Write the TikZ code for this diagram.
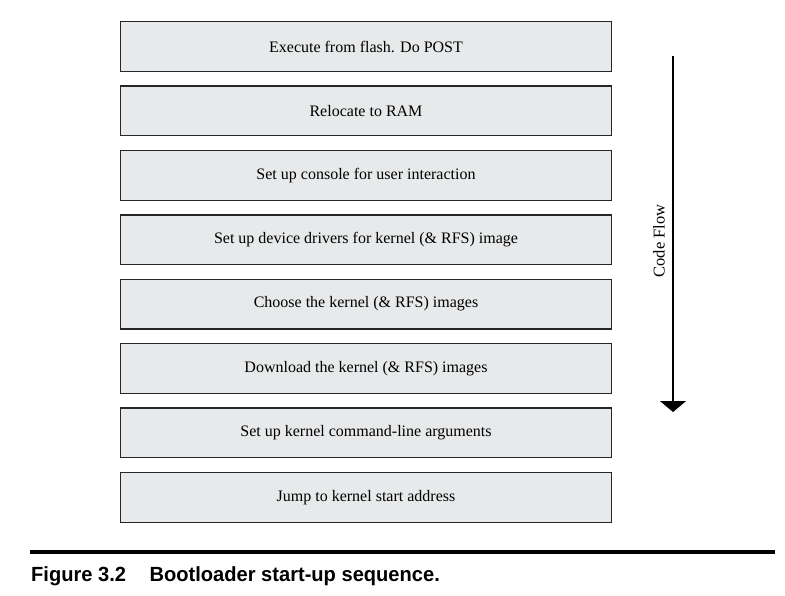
\documentclass[tikz,border=0pt]{standalone}
\usepackage{fontspec}
\setmainfont{Liberation Serif}
\newfontfamily\capfont{Liberation Sans}
\usetikzlibrary{arrows.meta,positioning}
\definecolor{boxgray}{RGB}{232,233,234}

\begin{document}
\begin{tikzpicture}[x=1pt,y=-1pt,
      stepbox/.style={
         rectangle,
         draw=black!85,
         line width=1.3pt,
         fill=boxgray,
         inner sep=0pt,
         minimum width=491pt,
         minimum height=49.7pt,
         font=\fontsize{16}{19}\selectfont},
      flowarrow/.style={-{Triangle[width=26pt,length=11pt]},line width=1.3pt},
      node distance=13.4pt
      ]
      \useasboundingbox (0,0) rectangle (785,595);
      \node[stepbox] (s1) at (366,46.5) {Execute from flash. Do POST};
      \node[stepbox,below=of s1] (s2) {Relocate to RAM};
      \node[stepbox,below=of s2] (s3) {Set up console for user interaction};
      \node[stepbox,below=of s3] (s4) {Set up device drivers for kernel (\& RFS) image};
      \node[stepbox,below=of s4] (s5) {Choose the kernel (\& RFS) images};
      \node[stepbox,below=of s5] (s6) {Download the kernel (\& RFS) images};
      \node[stepbox,below=of s6] (s7) {Set up kernel command-line arguments};
      \node[stepbox,below=of s7] (s8) {Jump to kernel start address};

      % code flow arrow
      \coordinate (flowtop) at (673,56);
      \coordinate (flowend) at (673,412);
      \draw[flowarrow] (flowtop) -- (flowend);
      \node[rotate=90,font=\fontsize{16.5}{19}\selectfont] (flowlbl) at (659,241) {Code Flow};

      % caption
      \coordinate (rulel) at (30,552);
      \coordinate (ruler) at (775,552);
      \draw[line width=4pt] (rulel) -- (ruler);
      \node[anchor=base west,inner sep=0pt,font=\capfont\bfseries\fontsize{20.5}{23}\selectfont] (caption) at (31,581)
         {\scalebox{0.98}[1]{Figure 3.2\hspace{24pt}Bootloader start-up sequence.}};
\end{tikzpicture}
\end{document}
